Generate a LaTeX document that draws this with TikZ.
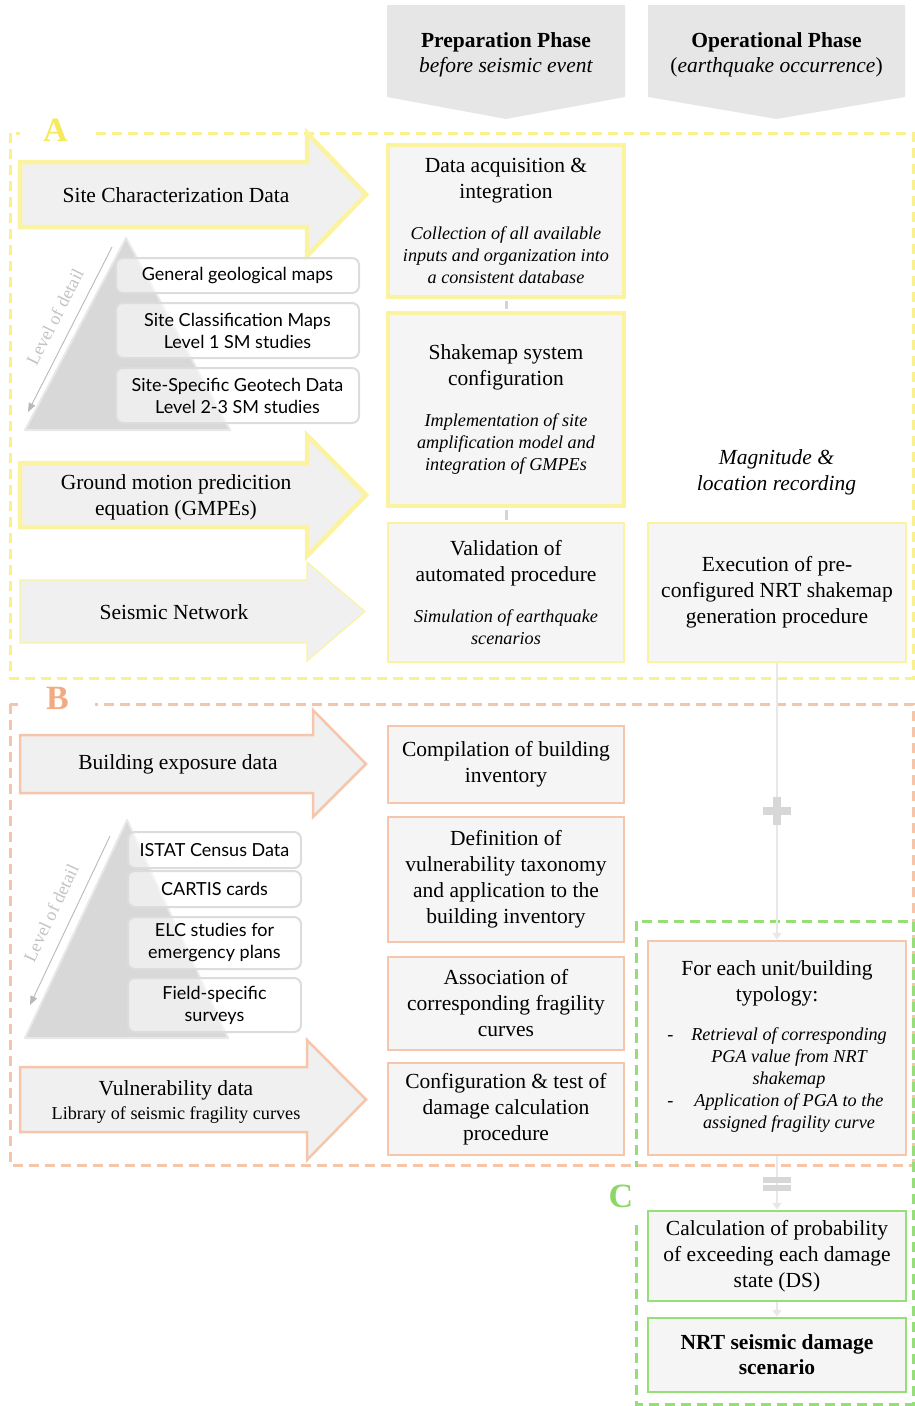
\documentclass[tikz,border=0pt]{standalone}
\usepackage{fontspec}
\setmainfont{Liberation Serif}
\newfontfamily\layerfont{Lato}
\usepackage{tikz}
\usetikzlibrary{arrows.meta}

\definecolor{siteyellow}{RGB}{251,243,160}
\definecolor{zoneyellow}{RGB}{250,240,140}
\definecolor{letteryellow}{RGB}{246,233,90}
\definecolor{bldsalmon}{RGB}{246,198,172}
\definecolor{zonesalmon}{RGB}{246,196,168}
\definecolor{lettersalmon}{RGB}{242,170,130}
\definecolor{dmggreen}{RGB}{150,222,120}
\definecolor{lettergreen}{RGB}{140,215,105}
\definecolor{cardgray}{RGB}{245,245,245}
\definecolor{arrowgray}{RGB}{240,240,240}
\definecolor{phasegray}{RGB}{230,230,230}
\definecolor{pyrgray}{RGB}{216,216,216}
\definecolor{pyredge}{RGB}{232,232,232}
\definecolor{layeredge}{RGB}{220,220,220}
\definecolor{lodgray}{RGB}{185,185,185}
\definecolor{lodtextgray}{RGB}{195,195,195}
\definecolor{linkgray}{RGB}{212,212,212}
\definecolor{fadegray}{RGB}{232,232,232}
\definecolor{signgray}{RGB}{215,215,215}

\newcommand\detail[1]{\par\vspace{19pt}{\centering\noindent\itshape\fontsize{18.2}{22}\selectfont #1\par}}
\newcommand\blockarrow[7]{%
  \draw[#1, fill=arrowgray, line join=miter]
    (20,#2) -- (#4,#2) -- (#4,#5) -- (#7,{(#2+#3)/2}) -- (#4,#6) -- (#4,#3) -- (20,#3) -- cycle;}

\tikzset{
  card/.style={draw, fill=cardgray, inner xsep=5pt, inner ysep=2pt, align=flush center,
    font=\fontsize{21.5}{26}\selectfont},
  prepcard/.style={card, text width=226pt, minimum height=#1},
  opcard/.style={card, text width=248pt, minimum height=#1},
  thickyellow/.style={draw=siteyellow, line width=4.5pt},
  thinyellow/.style={draw=siteyellow, line width=1.2pt},
  bldedge/.style={draw=bldsalmon, line width=2.5pt},
  greenedge/.style={draw=dmggreen, line width=2.5pt},
  arrowlabel/.style={align=center, font=\fontsize{21.5}{26}\selectfont},
  phasetitle/.style={align=center, font=\fontsize{21.5}{25}\selectfont},
  layer/.style={draw=layeredge, line width=2pt, rounded corners=7pt, fill=white,
    fill opacity=0.55, text opacity=1, align=center,
    font=\layerfont\fontsize{18}{22}\selectfont},
  lodline/.style={draw=lodgray, line width=0.9pt, -{Triangle[length=9pt,width=7pt]}},
  lodtext/.style={text=lodtextgray, font=\fontsize{18}{20}\selectfont},
  zone/.style={dash pattern=on 10pt off 6pt, line width=3pt},
  zonelabel/.style={fill=white, font=\bfseries\fontsize{34}{34}\selectfont},
  gaplink/.style={draw=linkgray, line width=3pt, shorten >=2pt, shorten <=2pt},
  oplink/.style={draw=fadegray, line width=2pt, -{Triangle[length=7pt,width=9pt]}},
}

\begin{document}
\begin{tikzpicture}[x=1pt, y=-1pt]
  \useasboundingbox (0,0) rectangle (915,1406);

  % phases
  \fill[phasegray] (387,5) -- (625,5) -- (625,97) -- (506,119) -- (387,97) -- cycle;
  \fill[phasegray] (648,5) -- (905,5) -- (905,97) -- (776.5,119) -- (648,97) -- cycle;
  \node[phasetitle] (prep) at (506,54.5) {\textbf{Preparation Phase}\\\textit{before seismic event}};
  \node[phasetitle] (oper) at (776.5,54.5) {\textbf{Operational Phase}\\(\textit{earthquake occurrence})};

  % zones
  \draw[zone, zoneyellow] (10,133) rectangle (913,678);
  \draw[zone, zonesalmon] (10,704) rectangle (913,1165);
  \draw[zone, dmggreen] (636,921) rectangle (913,1404);
  \node[zonelabel, text=letteryellow, minimum width=72] (zoneA) at (55.5,130) {A};
  \node[zonelabel, text=lettersalmon, minimum width=75] (zoneB) at (57.5,698) {B};
  \node[zonelabel, text=lettergreen, minimum width=40, minimum height=58] (zoneC) at (621,1196) {C};

  % A: shakemap inputs
  \blockarrow{thickyellow}{162}{227}{307}{133}{256}{366}
  \node[arrowlabel] (sitedata) at (176,195) {Site Characterization Data};

  \filldraw[fill=pyrgray, draw=pyredge, line width=2pt, line join=round]
    (126,238) -- (230,430) -- (25,430) -- cycle;
  \coordinate (lodAtop) at (112,247);
  \coordinate (lodAbot) at (28,412);
  \draw[lodline] (lodAtop) -- (lodAbot);
  \node[lodtext, rotate=63] (lodA) at (55,317) {Level of detail};
  \node[layer, minimum width=243, minimum height=35] (geomaps) at (237.5,275.5) {General geological maps};
  \node[layer, minimum width=243, minimum height=55] (siteclass) at (237.5,330.5) {Site Classification Maps\\Level 1 SM studies};
  \node[layer, minimum width=243, minimum height=55] (geotech) at (237.5,395.5) {Site-Specific Geotech Data\\Level 2-3 SM studies};

  \blockarrow{thickyellow}{463}{527}{307}{435}{556}{366}
  \node[arrowlabel] (gmpe) at (176,497) {Ground motion predicition\\equation (GMPEs)};
  \blockarrow{thinyellow}{580}{643}{307}{562}{661}{365}
  \node[arrowlabel] (network) at (174,612) {Seismic Network};

  \node[prepcard=152, thickyellow] (acquire) at (506,221) {Data acquisition \&\\integration\detail{Collection of all available\\inputs and organization into\\a consistent database}};
  \node[prepcard=193, thickyellow] (shakeconf) at (506,409.5) {Shakemap system\\configuration\detail{Implementation of site\\amplification model and\\integration of GMPEs}};
  \node[prepcard=139, thinyellow] (validate) at (506,592.5) {Validation of\\automated procedure\detail{Simulation of earthquake\\scenarios}};
  \draw[gaplink] (acquire) -- (shakeconf);
  \draw[gaplink] (shakeconf) -- (validate);

  \node[arrowlabel, font=\itshape\fontsize{21.5}{26}\selectfont] (magnitude) at (776.5,472) {Magnitude \&\\location recording};
  \node[opcard=139, thinyellow] (execute) at (777,592.5) {Execution of pre-\\configured NRT shakemap\\generation procedure};

  % B: exposure and vulnerability
  \blockarrow{bldedge}{735}{793}{313}{710}{817}{366}
  \node[arrowlabel] (exposure) at (178,764) {Building exposure data};

  \filldraw[fill=pyrgray, draw=pyredge, line width=2pt, line join=round]
    (127,820) -- (228,1038) -- (25,1038) -- cycle;
  \coordinate (lodBtop) at (110,836);
  \coordinate (lodBbot) at (30,1005);
  \draw[lodline] (lodBtop) -- (lodBbot);
  \node[lodtext, rotate=64.5] (lodB) at (51,913) {Level of detail};
  \node[layer, minimum width=173, minimum height=36] (istat) at (214.5,850) {ISTAT Census Data};
  \node[layer, minimum width=173, minimum height=36] (cartis) at (214.5,889) {CARTIS cards};
  \node[layer, minimum width=173, minimum height=52] (elc) at (214.5,943) {ELC studies for\\emergency plans};
  \node[layer, minimum width=173, minimum height=54] (fieldsurv) at (214.5,1005) {Field-specific\\surveys};

  \blockarrow{bldedge}{1067}{1132}{307}{1040}{1160}{366}
  \node[arrowlabel] (vulnerab) at (176,1102) {Vulnerability data\\[-2pt]{\fontsize{18.2}{22}\selectfont Library of seismic fragility curves}};

  \node[prepcard=77, bldedge] (inventory) at (506,764.5) {Compilation of building\\inventory};
  \node[prepcard=125, bldedge] (taxonomy) at (506,879.5) {Definition of\\vulnerability taxonomy\\and application to the\\building inventory};
  \node[prepcard=93, bldedge] (fragility) at (506,1003.5) {Association of\\corresponding fragility\\curves};
  \node[prepcard=92, bldedge] (damagecalc) at (506,1109) {Configuration \& test of\\damage calculation\\procedure};

  % C: damage scenario
  \node[opcard=214, bldedge] (foreach) at (777,1048) {For each unit/building\\typology:\par\vspace{18pt}{\itshape\fontsize{18.2}{22}\selectfont
    \begin{tabular}{@{}l@{\hspace{18pt}}c@{}}
      - & Retrieval of corresponding\\
        & PGA value from NRT\\
        & shakemap\\
      - & Application of PGA to the\\
        & assigned fragility curve
    \end{tabular}\par}};
  \node[opcard=90, greenedge] (probability) at (777,1256) {Calculation of probability\\of exceeding each damage\\state (DS)};
  \node[opcard=74, greenedge, font=\bfseries\fontsize{21.5}{25}\selectfont] (scenario) at (777,1355) {NRT seismic damage\\scenario};

  \draw[oplink] (execute) -- (foreach);
  \draw[oplink] (foreach) -- (probability);
  \draw[oplink] (probability) -- (scenario);
  \draw[signgray, line width=8pt] (763,811) -- (791,811) (777,797) -- (777,825);
  \draw[signgray, line width=6pt] (763,1179.5) -- (791,1179.5) (763,1188) -- (791,1188);
\end{tikzpicture}
\end{document}
